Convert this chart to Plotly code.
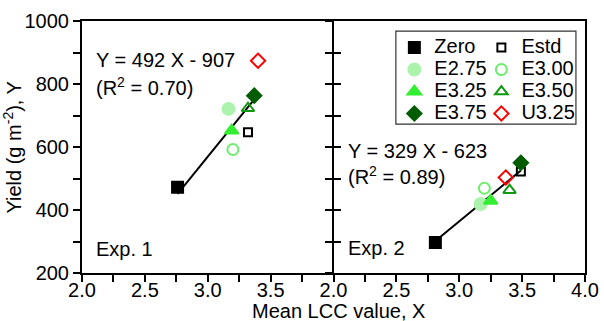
import plotly.graph_objects as go

# ---- data ----
treatments = ["Zero", "Estd", "E2.75", "E3.00", "E3.25", "E3.50", "E3.75", "U3.25"]
exp1_x = [2.76, 3.32, 3.165, 3.20, 3.19, 3.32, 3.37, 3.40]
exp1_y = [472, 647, 721, 592, 652, 723, 763, 874]
exp2_x = [2.81, 3.49, 3.17, 3.20, 3.25, 3.40, 3.49, 3.37]
exp2_y = [297, 522, 419, 469, 429, 463, 550, 503]
reg1 = {"slope": 492, "intercept": -907, "r2": "0.70"}
reg2 = {"slope": 329, "intercept": -623, "r2": "0.89"}
x_ticks = [2.0, 2.25, 2.5, 2.75, 3.0, 3.25, 3.5, 3.75, 4.0]
x_label_vals = [2.0, 2.5, 3.0, 3.5, 4.0]
x_ticktext_left = ["2.0", "2.5", "3.0", "3.5", ""]
x_ticktext_right = ["2.0", "2.5", "3.0", "3.5", "4.0"]
y_ticks = [200, 300, 400, 500, 600, 700, 800, 900, 1000]
y_ticktext = ["200", "", "400", "", "600", "", "800", "", "1000"]

# ---- styles ----
styles = {
    "Zero":  dict(symbol="square", color="#000000", size=11, legend="legend"),
    "Estd":  dict(symbol="square-open", color="#000000", size=8, legend="legend2"),
    "E2.75": dict(symbol="circle", color="#ADF2AD", size=12, legend="legend"),
    "E3.00": dict(symbol="circle-open", color="#6EEE6E", size=11, legend="legend2"),
    "E3.25": dict(symbol="triangle-up", color="#33EE33", size=12, legend="legend"),
    "E3.50": dict(symbol="triangle-up-open", color="#119911", size=11, legend="legend2"),
    "E3.75": dict(symbol="diamond", color="#005C00", size=11, legend="legend"),
    "U3.25": dict(symbol="diamond-open", color="#FF0000", size=11, legend="legend2"),
}

FONT = "Liberation Sans, Arial, sans-serif"
FS = 20
fig = go.Figure()

# regression lines (drawn first, beneath markers)
for xs, reg, xa, ya in [(exp1_x, reg1, "x", "y"), (exp2_x, reg2, "x2", "y2")]:
    fit_x = [xs[i] for i, t in enumerate(treatments) if t != "U3.25"]
    lx = [min(fit_x), max(fit_x)]
    ly = [reg["slope"] * v + reg["intercept"] for v in lx]
    fig.add_trace(go.Scatter(x=lx, y=ly, mode="lines", line=dict(color="black", width=2),
                             showlegend=False, hoverinfo="skip", xaxis=xa, yaxis=ya))

for xs, ys, xa, ya, show in [(exp1_x, exp1_y, "x", "y", True), (exp2_x, exp2_y, "x2", "y2", False)]:
    for i, t in enumerate(treatments):
        s = styles[t]
        fig.add_trace(go.Scatter(
            x=[xs[i]], y=[ys[i]], mode="markers",
            name=f'<span style="font-size:{FS}px">{t}</span>',
            marker=dict(symbol=s["symbol"], color=s["color"], size=s["size"],
                        line=dict(color=s["color"], width=2)),
            showlegend=show, legend=s["legend"], xaxis=xa, yaxis=ya))

# helper traces so the overlay axes are drawn
for xa, ya in [("x2", "y3"), ("x3", "y"), ("x4", "y2")]:
    fig.add_trace(go.Scatter(x=[], y=[], xaxis=xa, yaxis=ya, showlegend=False, hoverinfo="skip"))

axis_common = dict(linecolor="black", linewidth=2, ticks="outside",
                   ticklen=7, tickwidth=1.5, tickcolor="black", showgrid=False, zeroline=False,
                   automargin=False,
                   tickfont=dict(family=FONT, size=FS, color="black"))
label_axis = dict(ticks="", showline=False, showgrid=False, zeroline=False, automargin=False,
                  range=[2, 4], tickvals=x_label_vals, ticklabelstandoff=3,
                  tickfont=dict(family=FONT, size=FS, color="black"))

fig.update_layout(
    width=604, height=321,
    margin=dict(l=82, r=19, t=21, b=48),
    plot_bgcolor="white", paper_bgcolor="white",
    font=dict(family=FONT, size=FS, color="black"),
    xaxis=dict(domain=[0, 0.5], range=[2, 4], tickvals=x_ticks, showticklabels=False,
               showline=True, mirror=True, anchor="y", **axis_common),
    xaxis2=dict(domain=[0.5, 1], range=[2, 4], tickvals=x_ticks, showticklabels=False,
                showline=True, mirror=True, anchor="y2", **axis_common),
    xaxis3=dict(overlaying="x", anchor="y", matches="x", ticktext=x_ticktext_left, **label_axis),
    xaxis4=dict(overlaying="x2", anchor="y2", matches="x2", ticktext=x_ticktext_right, **label_axis),
    yaxis=dict(range=[200, 1000], tickvals=y_ticks, ticktext=y_ticktext, showline=True,
               mirror=False, anchor="x", **axis_common),
    yaxis2=dict(range=[200, 1000], tickvals=y_ticks, ticktext=y_ticktext, showline=True,
                mirror=True, showticklabels=False, anchor="x2", matches="y", **axis_common),
    yaxis3=dict(range=[200, 1000], tickvals=y_ticks, showticklabels=False, showline=False,
                overlaying="y2", anchor="x2", side="left", matches="y",
                ticks="inside", ticklen=7, tickwidth=1.5, tickcolor="black",
                showgrid=False, zeroline=False, automargin=False),
    legend=dict(x=0.621, y=0.958, xanchor="left", yanchor="top", bgcolor="rgba(0,0,0,0)",
                borderwidth=0, font=dict(family=FONT, size=14.6, color="black"),
                tracegroupgap=0, itemsizing="trace"),
    legend2=dict(x=0.794, y=0.958, xanchor="left", yanchor="top", bgcolor="rgba(0,0,0,0)",
                 borderwidth=0, font=dict(family=FONT, size=14.6, color="black"),
                 tracegroupgap=0, itemsizing="trace"),
    shapes=[dict(type="rect", xref="paper", yref="paper", x0=0.624, x1=0.982, y0=0.591, y1=0.960,
                 line=dict(color="#333333", width=1.2), fillcolor="rgba(0,0,0,0)", layer="below")],
    showlegend=True,
)

def ann(text, x, y, xref, yref, **kw):
    fig.add_annotation(text=text, x=x, y=y, xref=xref, yref=yref, showarrow=False,
                       xanchor=kw.get("xanchor", "left"), yanchor="middle",
                       font=dict(family=FONT, size=FS, color="black"),
                       textangle=kw.get("textangle", 0))

ann(f"Y = {reg1['slope']} X - {abs(reg1['intercept'])}", 0.047, 0.845, "x domain", "y domain")
ann(f"(R<sup>2</sup> = {reg1['r2']})", 0.047, 0.742, "x domain", "y domain")
ann("Exp. 1", 0.047, 0.095, "x domain", "y domain")
ann(f"Y = {reg2['slope']} X - {abs(reg2['intercept'])}", 0.05, 0.485, "x2 domain", "y2 domain")
ann(f"(R<sup>2</sup> = {reg2['r2']})", 0.05, 0.385, "x2 domain", "y2 domain")
ann("Exp. 2", 0.05, 0.098, "x2 domain", "y2 domain")
ann("Mean LCC value, X", 0.509, -0.152, "paper", "paper", xanchor="center")
ann("Yield (g m<sup>-2</sup>), Y", -0.14, 0.5, "paper", "paper", xanchor="center", textangle=-90)

fig.write_html("out.html", config={"displayModeBar": False},
               post_script="document.body.style.margin='0px';")
